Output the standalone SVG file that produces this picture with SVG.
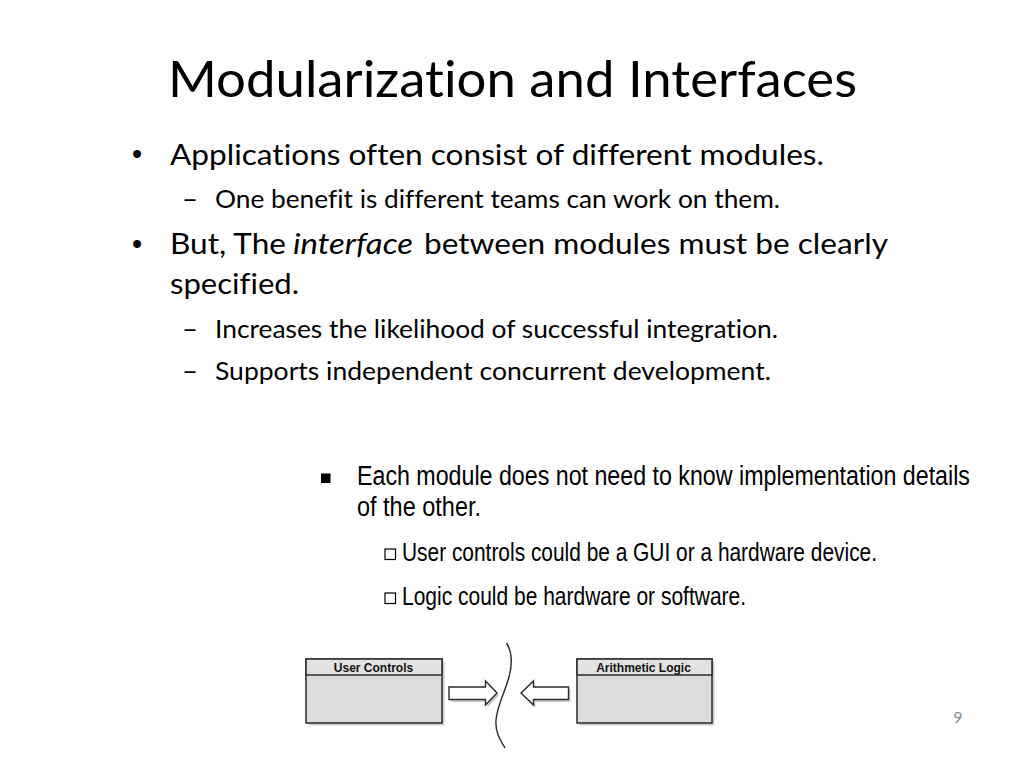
<svg xmlns="http://www.w3.org/2000/svg" width="1024" height="768" viewBox="0 0 1024 768">
<defs>
<style>
.cal{font-family:Lato,"Open Sans","Liberation Sans",sans-serif;fill:#000;font-variant-ligatures:none;font-feature-settings:"liga" 0,"clig" 0}
.ar{font-family:"Liberation Sans",Arial,sans-serif;fill:#000}
.lbl{font-family:"Liberation Sans",Arial,sans-serif;font-weight:bold;font-size:12px;fill:#111;text-anchor:middle}
.box{fill:#dcdcdc;stroke:#2b2b2b;stroke-width:1.5}
.hdr{fill:#e2e2e2;stroke:#2b2b2b;stroke-width:1.5}
.shd{fill:#9a9a9a;opacity:0.5}
.arw{fill:#fff;stroke:#2b2b2b;stroke-width:1.4;stroke-linejoin:miter}
.wave{fill:none;stroke:#2b2b2b;stroke-width:1.4}
</style>
</defs>
<rect width="1024" height="768" fill="#fff"/>

<g id="title">
<text class="cal" x="168" y="97" font-size="50" textLength="689" lengthAdjust="spacingAndGlyphs">Modularization and Interfaces</text>
</g>

<g id="bullets-top">
<text class="ar" x="137" y="164" font-size="29" text-anchor="middle">•</text>
<text class="cal" x="170" y="165" font-size="29" textLength="654" lengthAdjust="spacingAndGlyphs">Applications often consist of different modules.</text>
<text class="cal" x="182" y="207.5" font-size="25" textLength="16" lengthAdjust="spacingAndGlyphs">–</text>
<text class="cal" x="215" y="207.5" font-size="25" textLength="565" lengthAdjust="spacingAndGlyphs">One benefit is different teams can work on them.</text>
<text class="ar" x="137" y="254" font-size="29" text-anchor="middle">•</text>
<text class="cal" x="170" y="254" font-size="29" textLength="116" lengthAdjust="spacingAndGlyphs">But, The</text>
<text class="cal" x="293" y="254" font-size="29" font-style="italic" textLength="120" lengthAdjust="spacingAndGlyphs">interface</text>
<text class="cal" x="424" y="254" font-size="29" textLength="464" lengthAdjust="spacingAndGlyphs">between modules must be clearly</text>
<text class="cal" x="170" y="294" font-size="29" textLength="129" lengthAdjust="spacingAndGlyphs">specified.</text>
<text class="cal" x="182" y="338" font-size="25" textLength="16" lengthAdjust="spacingAndGlyphs">–</text>
<text class="cal" x="215" y="338" font-size="25" textLength="563" lengthAdjust="spacingAndGlyphs">Increases the likelihood of successful integration.</text>
<text class="cal" x="182" y="379.5" font-size="25" textLength="16" lengthAdjust="spacingAndGlyphs">–</text>
<text class="cal" x="215" y="379.5" font-size="25" textLength="556" lengthAdjust="spacingAndGlyphs">Supports independent concurrent development.</text>
</g>

<g id="bullets-bottom">
<rect x="321" y="473.5" width="9.5" height="9.5" fill="#000"/>
<text class="ar" transform="translate(357,484.5) scale(0.83,1)" font-size="28" textLength="738.5" lengthAdjust="spacingAndGlyphs">Each module does not need to know implementation details</text>
<text class="ar" transform="translate(357,516) scale(0.83,1)" font-size="28" textLength="149.4" lengthAdjust="spacingAndGlyphs">of the other.</text>
<rect x="385" y="549" width="10.5" height="10.5" fill="none" stroke="#000" stroke-width="1.2"/>
<text class="ar" transform="translate(402,561) scale(0.83,1)" font-size="25" textLength="572.3" lengthAdjust="spacingAndGlyphs">User controls could be a GUI or a hardware device.</text>
<rect x="385" y="593" width="10.5" height="10.5" fill="none" stroke="#000" stroke-width="1.2"/>
<text class="ar" transform="translate(402,604.5) scale(0.83,1)" font-size="25" textLength="414.5" lengthAdjust="spacingAndGlyphs">Logic could be hardware or software.</text>
</g>

<g id="node-user-controls">
<rect class="shd" x="308.5" y="661.5" width="136" height="64"/>
<rect class="box" x="306" y="659" width="136" height="64"/>
<rect class="hdr" x="306" y="659" width="136" height="16"/>
<text class="lbl" x="373.5" y="671.5">User Controls</text>
</g>

<g id="node-arithmetic-logic">
<rect class="shd" x="579.5" y="661.5" width="135" height="64"/>
<rect class="box" x="577" y="659" width="135" height="64"/>
<rect class="hdr" x="577" y="659" width="135" height="16"/>
<text class="lbl" x="643.5" y="671.5">Arithmetic Logic</text>
</g>

<g id="connectors">
<polygon class="shd" points="451,689.5 487.5,689.5 487.5,683.5 499,695.5 487.5,707.5 487.5,702 451,702"/>
<polygon class="arw" points="449,687 485.5,687 485.5,681 497,693 485.5,705 485.5,699.5 449,699.5"/>
<polygon class="shd" points="570.5,689.5 535.5,689.5 535.5,683.5 523,695.5 535.5,707.5 535.5,702 570.5,702"/>
<polygon class="arw" points="568.5,687 533.5,687 533.5,681 521,693 533.5,705 533.5,699.5 568.5,699.5"/>
<path class="wave" d="M506.5,643 C511,650 513,662 509,677 C505,692 497,706 496,720 C495,733 501,741 505,748"/>
</g>

<g id="page-number">
<text class="cal" x="958" y="723" font-size="16" style="fill:#8a8a8a" text-anchor="middle">9</text>
</g>
</svg>
